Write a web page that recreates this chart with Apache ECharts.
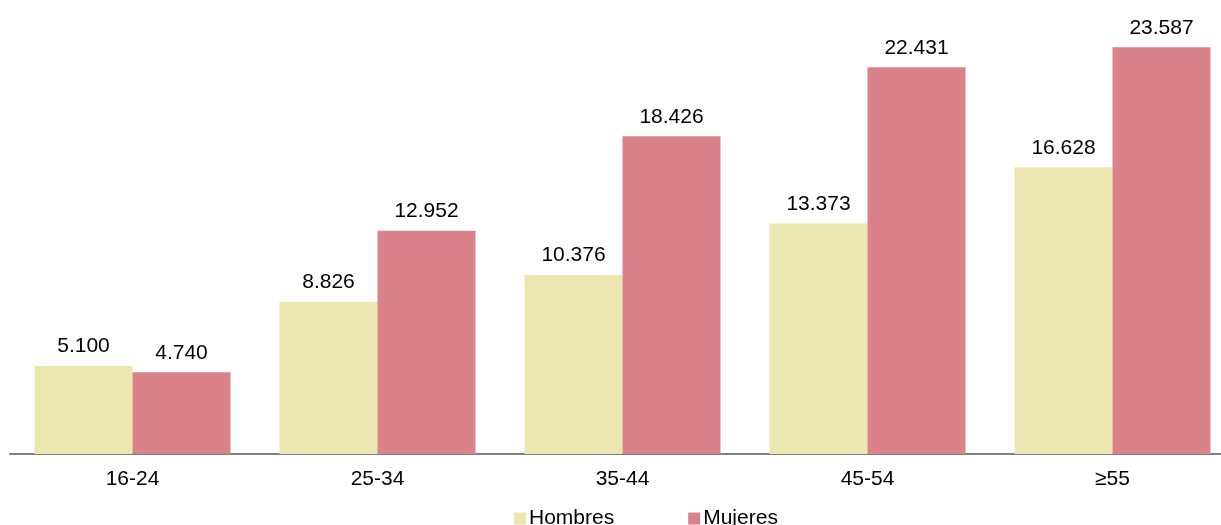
<!DOCTYPE html>
<html>
<head>
    <meta charset="UTF-8">
    <title>Hombres / Mujeres por edad</title>
    <script src="https://cdn.jsdelivr.net/npm/echarts@6/dist/echarts.min.js"></script>
    <style>
        html, body { margin: 0; padding: 0; background: #fff; }
        #main { width: 1221px; height: 525px; }
    </style>
</head>
<body>
    <div id="main"></div>
    <script type="text/javascript">
        var categories = ['16-24', '25-34', '35-44', '45-54', '≥55'];
        var hombres = [5.100, 8.826, 10.376, 13.373, 16.628];
        var mujeres = [4.740, 12.952, 18.426, 22.431, 23.587];

        var myChart = echarts.init(document.getElementById('main'));

        var labelStyle = {
            show: true,
            position: 'top',
            distance: 9,
            fontFamily: 'Liberation Sans, Arial, sans-serif',
            fontSize: 21,
            color: '#000',
            formatter: function (p) { return p.value.toFixed(3); }
        };

        var option = {
            animation: false,
            textStyle: { fontFamily: 'Liberation Sans, Arial, sans-serif' },
            grid: { left: 10, top: 23, right: -14, height: 431, outerBoundsMode: 'none', containLabel: false },
            legend: {
                left: 509,
                top: 503,
                itemWidth: 12,
                itemHeight: 12,
                itemGap: 74,
                icon: 'rect',
                textStyle: { fontSize: 21, color: '#000', padding: [0, 0, 0, -2] },
                data: ['Hombres', 'Mujeres']
            },
            xAxis: {
                type: 'category',
                data: categories,
                axisLine: { lineStyle: { color: '#808080', width: 2 } },
                axisTick: { show: false },
                axisLabel: { fontSize: 21, color: '#000', margin: 15 }
            },
            yAxis: {
                type: 'value',
                min: 0,
                max: 25,
                show: false,
                splitLine: { show: false }
            },
            series: [
                {
                    name: 'Hombres',
                    type: 'bar',
                    data: hombres,
                    barGap: '0%',
                    barCategoryGap: '20%',
                    itemStyle: { color: '#ECE7B0' },
                    label: labelStyle
                },
                {
                    name: 'Mujeres',
                    type: 'bar',
                    data: mujeres,
                    itemStyle: { color: '#D9828A' },
                    label: labelStyle
                }
            ]
        };

        myChart.setOption(option);
    </script>
</body>
</html>
